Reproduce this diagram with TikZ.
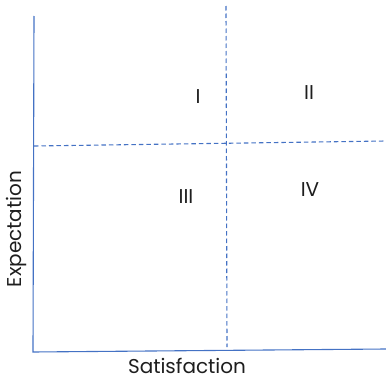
\documentclass[tikz,border=0pt]{standalone}
\usepackage{fontspec}
\setmainfont{Poppins}
\usepackage{tikz}
\usetikzlibrary{positioning}
\definecolor{axisblue}{RGB}{68, 114, 196}
\definecolor{textgray}{RGB}{30, 30, 30}
\tikzset{
  axisline/.style={draw=axisblue, line width=1.1pt},
  splitline/.style={draw=axisblue, line width=1.1pt, dash pattern=on 4.5pt off 3pt},
  quadlabel/.style={text=textgray, font=\fontsize{20}{24}\selectfont},
  axislabel/.style={text=textgray, font=\fontsize{20}{24}\selectfont}
}
\begin{document}
\begin{tikzpicture}[x=1pt, y=-1pt]
\useasboundingbox (0,0) rectangle (386,380);
% axes
\coordinate (ytop)   at (34,16);
\coordinate (origin) at (33,352);
\coordinate (xend)   at (386,349);
\draw[axisline] (ytop) -- (origin) -- (xend);
% quadrant split
\coordinate (vtop) at (226,6);
\coordinate (vbot) at (227,347);
\coordinate (hleft)  at (34,146);
\coordinate (hright) at (386,141);
\draw[splitline] (vtop) -- (vbot);
\draw[splitline] (hleft) -- (hright);
% quadrant labels
\node (q1) [quadlabel] at (198,97)  {I};
\node (q2) [quadlabel] at (309,93)  {II};
\node (q3) [quadlabel] at (186,197) {III};
\node (q4) [quadlabel] at (310,190) {IV};
% axis labels
\node (sat) [axislabel] at (187,366) {Satisfaction};
\node (exp) [axislabel, rotate=90] at (16,229) {Expectation};
\end{tikzpicture}
\end{document}
